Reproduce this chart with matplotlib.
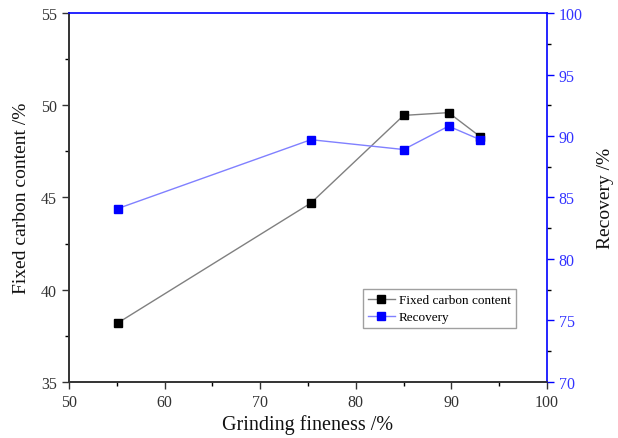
import matplotlib
matplotlib.use("Agg")
import matplotlib.pyplot as plt
from matplotlib.ticker import MultipleLocator

plt.rcParams['font.family'] = ['Liberation Serif', 'DejaVu Serif']

fineness = [55.1, 75.3, 85.0, 89.7, 93.0]
fixed_carbon = [38.2, 44.7, 49.45, 49.6, 48.3]
recovery = [84.1, 89.7, 88.9, 90.8, 89.7]

fig = plt.figure(figsize=(6.18, 4.39), dpi=100)
ax = fig.add_axes([0.1117, 0.1276, 0.7735, 0.8405])
ax2 = ax.twinx()

l1, = ax.plot(fineness, fixed_carbon, color='#808080', lw=1.0, marker='s',
              markersize=6, markerfacecolor='black', markeredgecolor='black',
              label='Fixed carbon content', zorder=3)
l2, = ax2.plot(fineness, recovery, color='#8080ff', lw=1.0, marker='s',
               markersize=6, markerfacecolor='#0000ff', markeredgecolor='#0000ff',
               label='Recovery', zorder=3)

ax.set_xlim(50, 100)
ax.set_ylim(35, 55)
ax2.set_ylim(70, 100)

ax.xaxis.set_major_locator(MultipleLocator(10))
ax.xaxis.set_minor_locator(MultipleLocator(5))
ax.yaxis.set_major_locator(MultipleLocator(5))
ax.yaxis.set_minor_locator(MultipleLocator(2.5))
ax2.yaxis.set_major_locator(MultipleLocator(5))
ax2.yaxis.set_minor_locator(MultipleLocator(2.5))

for a in (ax, ax2):
    a.tick_params(which='major', direction='out', length=5, width=1)
    a.tick_params(which='minor', direction='out', length=3, width=1)

ax.tick_params(axis='both', labelsize=11.5, labelcolor='#333333', colors='#333333')
ax.tick_params(axis='x', top=False)
ax2.tick_params(axis='y', labelsize=11.5, colors='#0000ff', labelcolor='#3333ff')

ax.spines['left'].set_color('#333333')
ax.spines['bottom'].set_color('#333333')
ax2.spines['left'].set_color('#333333')
ax2.spines['bottom'].set_color('#333333')
ax2.spines['right'].set_color('#0000ff')
ax2.spines['top'].set_color('#0000ff')
ax.spines['right'].set_visible(False)
ax.spines['top'].set_visible(False)
for s in ax2.spines.values():
    s.set_linewidth(1.2)
for s in ax.spines.values():
    s.set_linewidth(1.2)

ax.set_xlabel('Grinding fineness /%', fontsize=14.5, color='#111111', labelpad=3)
ax.set_ylabel('Fixed carbon content /%', fontsize=14, color='#111111', labelpad=8)
ax2.set_ylabel('Recovery /%', fontsize=14, color='#111111', labelpad=10)

leg = ax2.legend(handles=[l1, l2], loc='lower left', bbox_to_anchor=(0.615, 0.145),
                 fontsize=9.5, frameon=True, fancybox=False, handlelength=2.0,
                 handletextpad=0.3, borderpad=0.4, labelspacing=0.35,
                 borderaxespad=0)
leg.get_frame().set_edgecolor('#888888')
leg.get_frame().set_linewidth(1.0)

fig.savefig('out.png', dpi=100)
